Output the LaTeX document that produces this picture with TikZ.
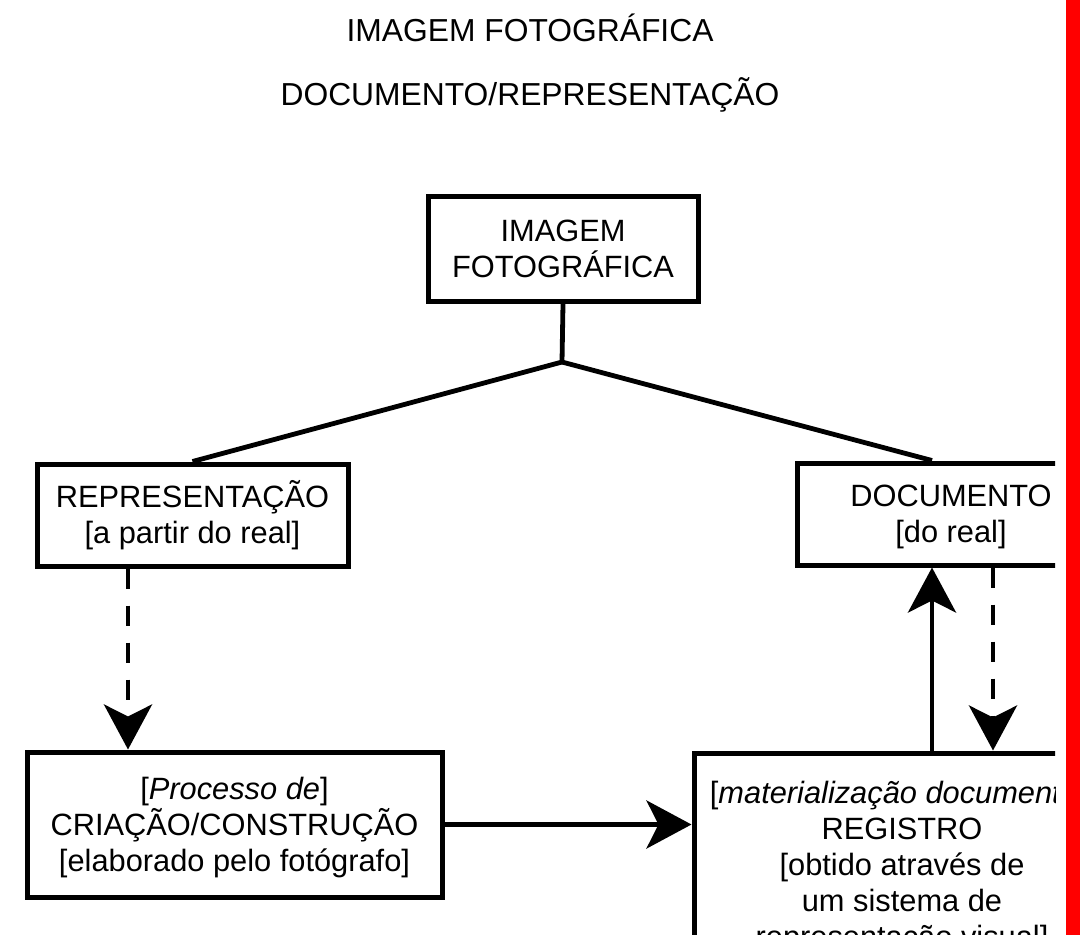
\documentclass[tikz,border=0pt]{standalone}
\usepackage{fontspec}
\setmainfont{Liberation Sans}
\usetikzlibrary{arrows.meta}
\newcommand{\lnstrut}{\rule[-7.2pt]{0pt}{36pt}}
\begin{document}
\begin{tikzpicture}[x=1pt,y=-1pt,
  box/.style={draw, line width=5pt, align=center, inner sep=0pt,
    font=\fontsize{30.8}{36}\selectfont},
  conn/.style={line width=4.8pt},
  arr/.style={conn, -{Stealth[length=45pt,width=48pt,inset=12pt]}},
  dasharr/.style={arr, dash pattern=on 20pt off 17pt},
  title/.style={font=\fontsize{31.8}{38}\selectfont, inner sep=0pt, anchor=base}
]
\useasboundingbox (0,0) rectangle (1080,935);
\fill[white] (0,0) rectangle (1080,935);
\fill[red] (1066,0) rectangle (1080,935);

\begin{scope}
\clip (0,0) rectangle (1055,935);
\node[title] (t1) at (530,41.5) {IMAGEM FOTOGRÁFICA};
\node[title] (t2) at (530,105) {DOCUMENTO/REPRESENTAÇÃO};

\node[box, minimum width=270pt, minimum height=105pt] (top) at (563,249) {\lnstrut IMAGEM\\\lnstrut FOTOGRÁFICA};
\node[box, minimum width=311pt, minimum height=102pt] (rep) at (192.5,515) {\lnstrut REPRESENTAÇÃO\\\lnstrut[a partir do real]};
\node[box, minimum width=308pt, minimum height=102pt] (doc) at (951,514) {\lnstrut DOCUMENTO\\\lnstrut[do real]};
\node[box, minimum width=415pt, minimum height=145pt] (cri) at (234.5,824.5) {\lnstrut[\textit{Processo de}]\\\lnstrut CRIAÇÃO/CONSTRUÇÃO\\\lnstrut[elaborado pelo fotógrafo]};
\node[box, minimum width=416pt, minimum height=224pt] (reg) at (902,865) {\lnstrut[\textit{materialização documental}]\\\lnstrut REGISTRO\\\lnstrut[obtido através de\\\lnstrut um sistema de\\\lnstrut representação visual]};

\coordinate (j) at (562,362);
\coordinate (dl) at ([xshift=-64.5pt]rep.south);
\coordinate (ul) at ([xshift=30pt]reg.north);
\coordinate (dr) at ([xshift=42pt]doc.south);
\draw[conn, line join=miter] (top.south) -- (j) -- (rep.north);
\draw[conn] (j) -- ([xshift=-19pt]doc.north);

\draw[dasharr] (dl) -- (cri.north -| dl);
\draw[arr] (cri.east) -- (cri.east -| reg.west);
\draw[arr] (ul) -- (doc.south -| ul);
\draw[dasharr] (dr) -- (reg.north -| dr);
\end{scope}
\end{tikzpicture}
\end{document}
